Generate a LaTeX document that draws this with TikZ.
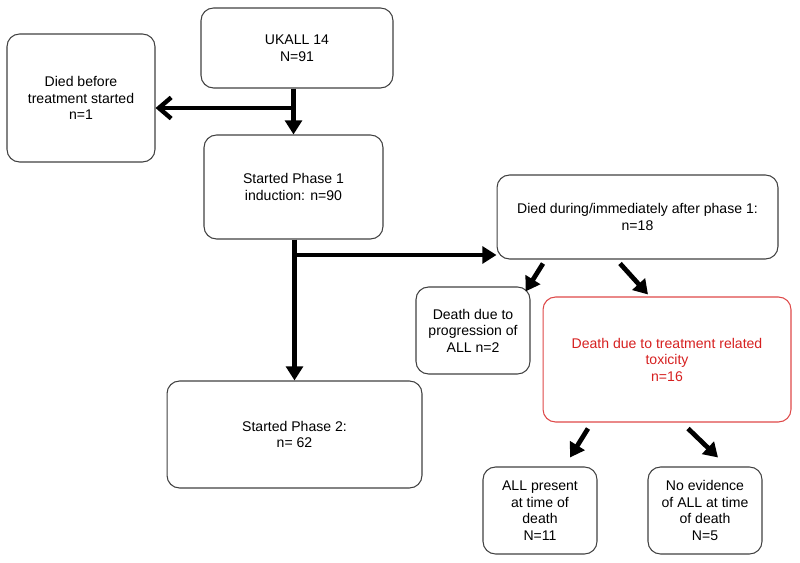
\documentclass[tikz,border=0pt]{standalone}
\usepackage{fontspec}
\setmainfont{Liberation Sans}
\usetikzlibrary{arrows.meta}
\definecolor{boxred}{RGB}{222,72,72}
\definecolor{txtred}{RGB}{214,32,32}

\begin{document}
\begin{tikzpicture}[x=0.02cm,y=-0.02cm,
  box/.style={draw=black!75,line width=0.6pt,rounded corners=0.25cm,align=center,inner sep=0pt,font=\fontsize{8}{9.4}\selectfont},
  redbox/.style={box,draw=boxred,text=txtred},
  arr/.style={line width=2.7pt,-{Triangle[length=8pt,width=9.5pt]}},
  barb/.style={line width=2.5pt,-{Straight Barb[length=7pt,width=12pt]}}]
\useasboundingbox (0,0) rectangle (800,563);
\node[box,minimum width=3.84cm,minimum height=1.6cm] (ukall) at (297,48) {UKALL 14\\N=91};
\node[box,minimum width=2.96cm,minimum height=2.56cm] (before) at (81,98) {Died before\\treatment started\\n=1};
\node[box,minimum width=3.58cm,minimum height=2.08cm] (phaseone) at (293.5,187) {Started Phase 1\\induction: n=90};
\node[box,minimum width=5.62cm,minimum height=1.68cm] (during) at (637.5,217) {Died during/immediately after phase 1:\\n=18};
\node[box,minimum width=2.28cm,minimum height=1.74cm] (progr) at (473,330.5) {Death due to\\progression of\\ALL n=2};
\node[redbox,minimum width=4.96cm,minimum height=2.5cm] (toxic) at (667,359.5) {Death due to treatment related\\toxicity\\n=16};
\node[box,minimum width=5.1cm,minimum height=2.14cm] (phasetwo) at (294.5,434.5) {Started Phase 2:\\n= 62};
\node[box,minimum width=2.28cm,minimum height=1.74cm] (present) at (540,510.5) {ALL present\\at time of\\death\\N=11};
\node[box,minimum width=2.28cm,minimum height=1.74cm] (noevid) at (705,510.5) {No evidence\\of ALL at time\\of death\\N=5};
\coordinate (splitone) at (293.5,108);
\coordinate (splittwo) at (294.5,255);
\draw[arr] (ukall.south -| phaseone.north) -- (phaseone.north);
\draw[barb] (splitone) -- (splitone -| before.east);
\draw[arr] (phaseone.south -| phasetwo.north) -- (phasetwo.north);
\draw[arr] (splittwo) -- (splittwo -| during.west);
\draw[arr] ([shift={(-94.5,4)}]during.south) -- ([shift={(-5,5)}]progr.north east);
\draw[arr] ([shift={(-17.5,4)}]during.south) -- ([shift={(-19,-2)}]toxic.north);
\draw[arr] ([shift={(-79,6)}]toxic.south) -- ([shift={(30,-9)}]present.north);
\draw[arr] ([shift={(21,6)}]toxic.south) -- ([shift={(13,-9)}]noevid.north);
\end{tikzpicture}
\end{document}
